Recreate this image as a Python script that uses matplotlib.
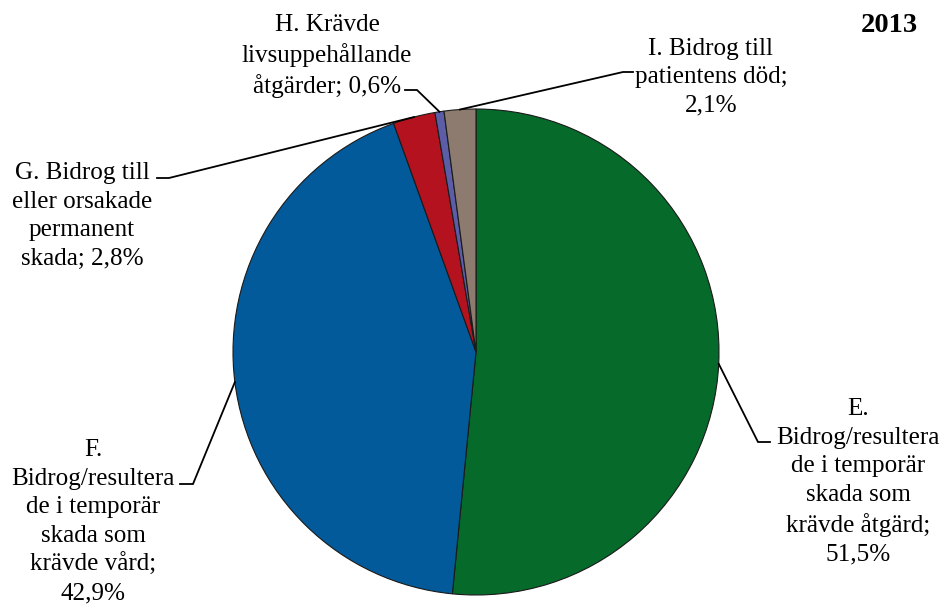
import numpy as np
import matplotlib
matplotlib.use("Agg")
import matplotlib.pyplot as plt

categories = ["E. Bidrog/resulterade i temporär skada som krävde åtgärd",
              "F. Bidrog/resulterade i temporär skada som krävde vård",
              "G. Bidrog till eller orsakade permanent skada",
              "H. Krävde livsuppehållande åtgärder",
              "I. Bidrog till patientens död"]
values = [51.5, 42.9, 2.8, 0.6, 2.1]
value_labels = ["51,5%", "42,9%", "2,8%", "0,6%", "2,1%"]
label_texts = [
    "E.\nBidrog/resultera\nde i temporär\nskada som\nkrävde åtgärd;\n51,5%",
    "F.\nBidrog/resultera\nde i temporär\nskada som\nkrävde vård;\n42,9%",
    "G. Bidrog till\neller orsakade\npermanent\nskada; 2,8%",
    "H. Krävde\nlivsuppehållande\nåtgärder; 0,6%",
    "I. Bidrog till\npatientens död;\n2,1%",
]
colors = ["#066a2a", "#035a9a", "#b5121f", "#5b5ea6", "#8c7b6e"]
title = "2013"

W, H = 945, 605
fig = plt.figure(figsize=(W / 100, H / 100), dpi=100)
ax = fig.add_axes([0, 0, 1, 1])

cx, cy, r = 476, H - 352, 243
wedges, _ = ax.pie(values, colors=colors, startangle=90, counterclock=False,
                   center=(cx, cy), radius=r, frame=True,
                   wedgeprops=dict(edgecolor="#1a1a1a", linewidth=0.8))
ax.set_xlim(0, W)
ax.set_ylim(0, H)
ax.set_aspect("equal")
ax.axis("off")

font = dict(family="Liberation Serif", fontsize=18.1, linespacing=1.38)

# layout: text center (px, from top), leader elbow points (px, from top)
layout = [
    dict(text=(858, 482), elbow=[(770, 442), (758, 442)]),
    dict(text=(93, 522), elbow=[(180, 484), (193, 484)]),
    dict(text=(82, 216), elbow=[(157, 178), (169, 178)]),
    dict(text=(327, 56), elbow=[(405, 90), (417, 90)]),
    dict(text=(711, 77), elbow=[(623, 72), (633, 72)]),
]

for w, txt, lay in zip(wedges, label_texts, layout):
    mid = np.deg2rad((w.theta1 + w.theta2) / 2)
    px, py = cx + r * np.cos(mid), cy + r * np.sin(mid)
    (x1, y1), (x2, y2) = lay["elbow"]
    pts = [(x1, H - y1), (x2, H - y2)]
    d1 = (pts[0][0] - px) ** 2 + (pts[0][1] - py) ** 2
    d2 = (pts[1][0] - px) ** 2 + (pts[1][1] - py) ** 2
    if d1 < d2:
        pts = pts[::-1]
    xs = [pts[0][0], pts[1][0], px]
    ys = [pts[0][1], pts[1][1], py]
    ax.plot(xs, ys, color="black", lw=1.3, solid_joinstyle="miter", zorder=5)
    tx, ty = lay["text"]
    ax.text(tx, H - ty, txt, ha="center", va="center", multialignment="center",
            color="black", **font)

ax.text(918, H - 25, title, ha="right", va="center", family="Liberation Serif",
        fontsize=20.5, fontweight="bold")

fig.savefig("out.png", dpi=100)
